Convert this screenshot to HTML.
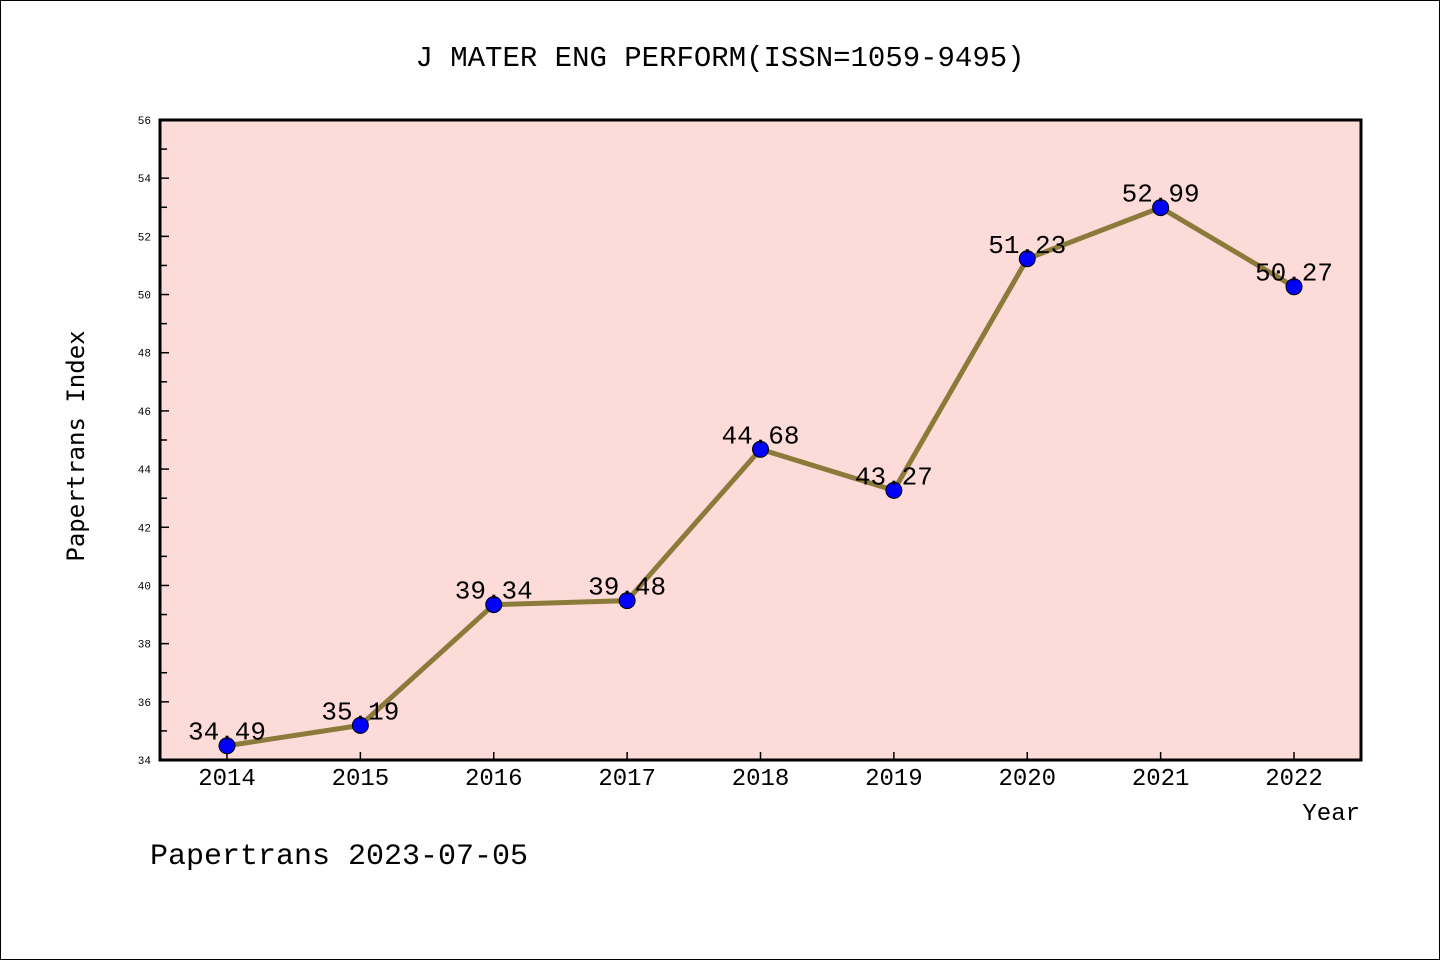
<!DOCTYPE html>
<html><head><meta charset="utf-8"><style>
html,body{margin:0;padding:0;background:#fff}
svg{display:block}
text{font-family:"Liberation Mono","WenQuanYi Zen Hei",monospace;fill:#000}
</style></head><body>
<svg id="c" width="1440" height="960">
<rect x="0.5" y="0.5" width="1439" height="959" fill="#fff" stroke="#000"/>
<text x="720" y="66" text-anchor="middle" font-size="29">J MATER ENG PERFORM(ISSN=1059-9495)</text>
<rect x="160" y="120" width="1201" height="640" fill="#fddbd8"/>
<g id="g"></g>
<rect x="160" y="120" width="1201" height="640" fill="none" stroke="#000" stroke-width="3"/>
<text transform="translate(84,446) rotate(-90)" text-anchor="middle" font-size="24" style="font-family:'DejaVu Sans Mono',monospace">Papertrans Index</text>
<text x="1360" y="820" text-anchor="end" font-size="24">Year</text>
<text x="150" y="864" font-size="30">Papertrans 2023-07-05</text>
</svg>
<script>
const years=["2014","2015","2016","2017","2018","2019","2020","2021","2022"];
const values=[34.49,35.19,39.34,39.48,44.68,43.27,51.23,52.99,50.27];
const valueLabels=["34.49","35.19","39.34","39.48","44.68","43.27","51.23","52.99","50.27"];
const yTicks=[34,36,38,40,42,44,46,48,50,52,54,56];
const yMin=34,yMax=56;
const NS="http://www.w3.org/2000/svg";
const g=document.getElementById('g');
function X(i){return 227+i*(1294-227)/(years.length-1);}
function Y(v){return 760-(v-yMin)/(yMax-yMin)*640;}
function mk(t,a){const e=document.createElementNS(NS,t);for(const k in a)e.setAttribute(k,a[k]);g.appendChild(e);return e;}
yTicks.forEach(v=>{
  const l=mk('line',{x1:160,x2:169,y1:Y(v),y2:Y(v),stroke:'#000','stroke-width':1.5});
  
  
  const t=mk('text',{x:151,y:Y(v)+4,'text-anchor':'end','font-size':11});
  t.textContent=v;
  
  
  if(v<yMax){
    const m=mk('line',{x1:160,x2:167,y1:Y(v+1),y2:Y(v+1),stroke:'#000','stroke-width':1.5});
    
    
  }
});
years.forEach((y,i)=>{
  const l=mk('line',{x1:X(i),x2:X(i),y1:752,y2:760,stroke:'#000','stroke-width':1.5});
  
  
  const t=mk('text',{x:X(i),y:785,'text-anchor':'middle','font-size':24});
  t.textContent=y;
  
  
});
const pl=mk('polyline',{points:values.map((v,i)=>X(i)+','+Y(v)).join(' '),fill:'none',stroke:'#8b7a3a','stroke-width':5,'stroke-linejoin':'round'});


values.forEach((v,i)=>{
  const c=mk('circle',{cx:X(i),cy:Y(v),r:8,fill:'#0000ff',stroke:'#000','stroke-width':1});
  
  
});
values.forEach((v,i)=>{
  const t=mk('text',{x:X(i),y:Y(v)-6,'text-anchor':'middle','font-size':26});
  t.textContent=valueLabels[i];
  
  
});
</script>
</body></html>
